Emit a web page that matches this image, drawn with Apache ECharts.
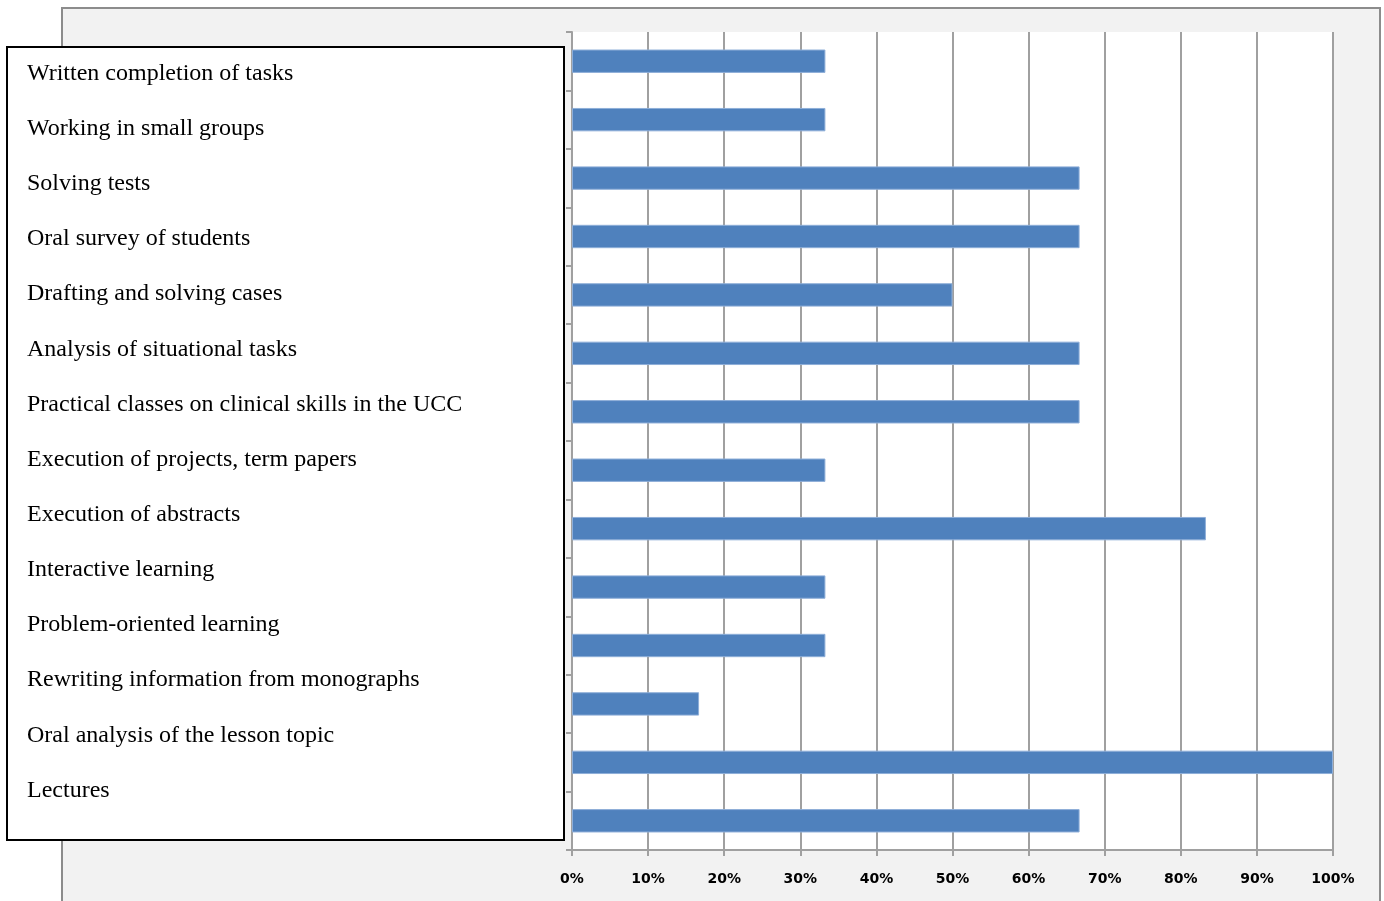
<!DOCTYPE html>
<html><head><meta charset="utf-8">
<script src="https://cdn.jsdelivr.net/npm/echarts@6/dist/echarts.min.js"></script>
<style>html,body{margin:0;padding:0;background:#fff}#c{width:1384px;height:901px}</style>
</head><body><div id="c"></div>
<script>
const categories = [
  "Written completion of tasks",
  "Working in small groups",
  "Solving tests",
  "Oral survey of students",
  "Drafting and solving cases",
  "Analysis of situational tasks",
  "Practical classes on clinical skills in the UCC",
  "Execution of projects, term papers",
  "Execution of abstracts",
  "Interactive learning",
  "Problem-oriented learning",
  "Rewriting information from monographs",
  "Oral analysis of the lesson topic",
  "Lectures"
];
const values = [33.3, 33.3, 66.7, 66.7, 50, 66.7, 66.7, 33.3, 83.3, 33.3, 33.3, 16.7, 100, 66.7];
const tickValues = [0,10,20,30,40,50,60,70,80,90,100];

const chart = echarts.init(document.getElementById('c'), null, {renderer:'canvas'});
const gridLine = '#a0a0a0';
const labelTexts = categories.map((c, i) => ({
  type: 'text', x: 27, y: 73.5 + i * 55.15, z: 101,
  style: { text: c, font: '24px "Liberation Serif", "Times New Roman", serif', fill: '#000', verticalAlign: 'middle', textVerticalAlign: 'middle' }
}));
chart.setOption({
  animation: false,
  backgroundColor: '#fff',
  graphic: [
    { type: 'rect', shape: { x: 62, y: 8, width: 1318, height: 900 }, z: -10, silent: true,
      style: { fill: '#f2f2f2', stroke: '#8c8c8c', lineWidth: 2 } },
    { type: 'rect', shape: { x: 7, y: 47, width: 557, height: 793 }, z: 100,
      style: { fill: '#fff', stroke: '#000', lineWidth: 2 } },
    ...labelTexts
  ],
  grid: { left: 572, right: 51, top: 32, bottom: 51, show: true, backgroundColor: '#fff', borderWidth: 0 },
  xAxis: {
    type: 'value', min: 0, max: 100, interval: 10,
    axisLine: { show: true, lineStyle: { color: gridLine, width: 2 } },
    axisTick: { show: true, length: 6, lineStyle: { color: gridLine, width: 2 } },
    splitLine: { show: true, lineStyle: { color: gridLine, width: 2 } },
    axisLabel: { margin: 22, color: '#000', fontFamily: 'DejaVu Sans', fontWeight: 'bold', fontSize: 14,
      formatter: v => tickValues.includes(v) ? v + '%' : '' }
  },
  yAxis: {
    type: 'category', data: categories, inverse: true,
    axisLine: { show: true, lineStyle: { color: gridLine, width: 2 } },
    axisTick: { show: true, length: 6, lineStyle: { color: gridLine, width: 2 } },
    axisLabel: { show: false }
  },
  series: [{
    type: 'bar', data: values, barCategoryGap: '60%',
    itemStyle: { color: '#4f81bd', borderColor: '#8eaed8', borderWidth: 1 }
  }]
});
</script></body></html>
